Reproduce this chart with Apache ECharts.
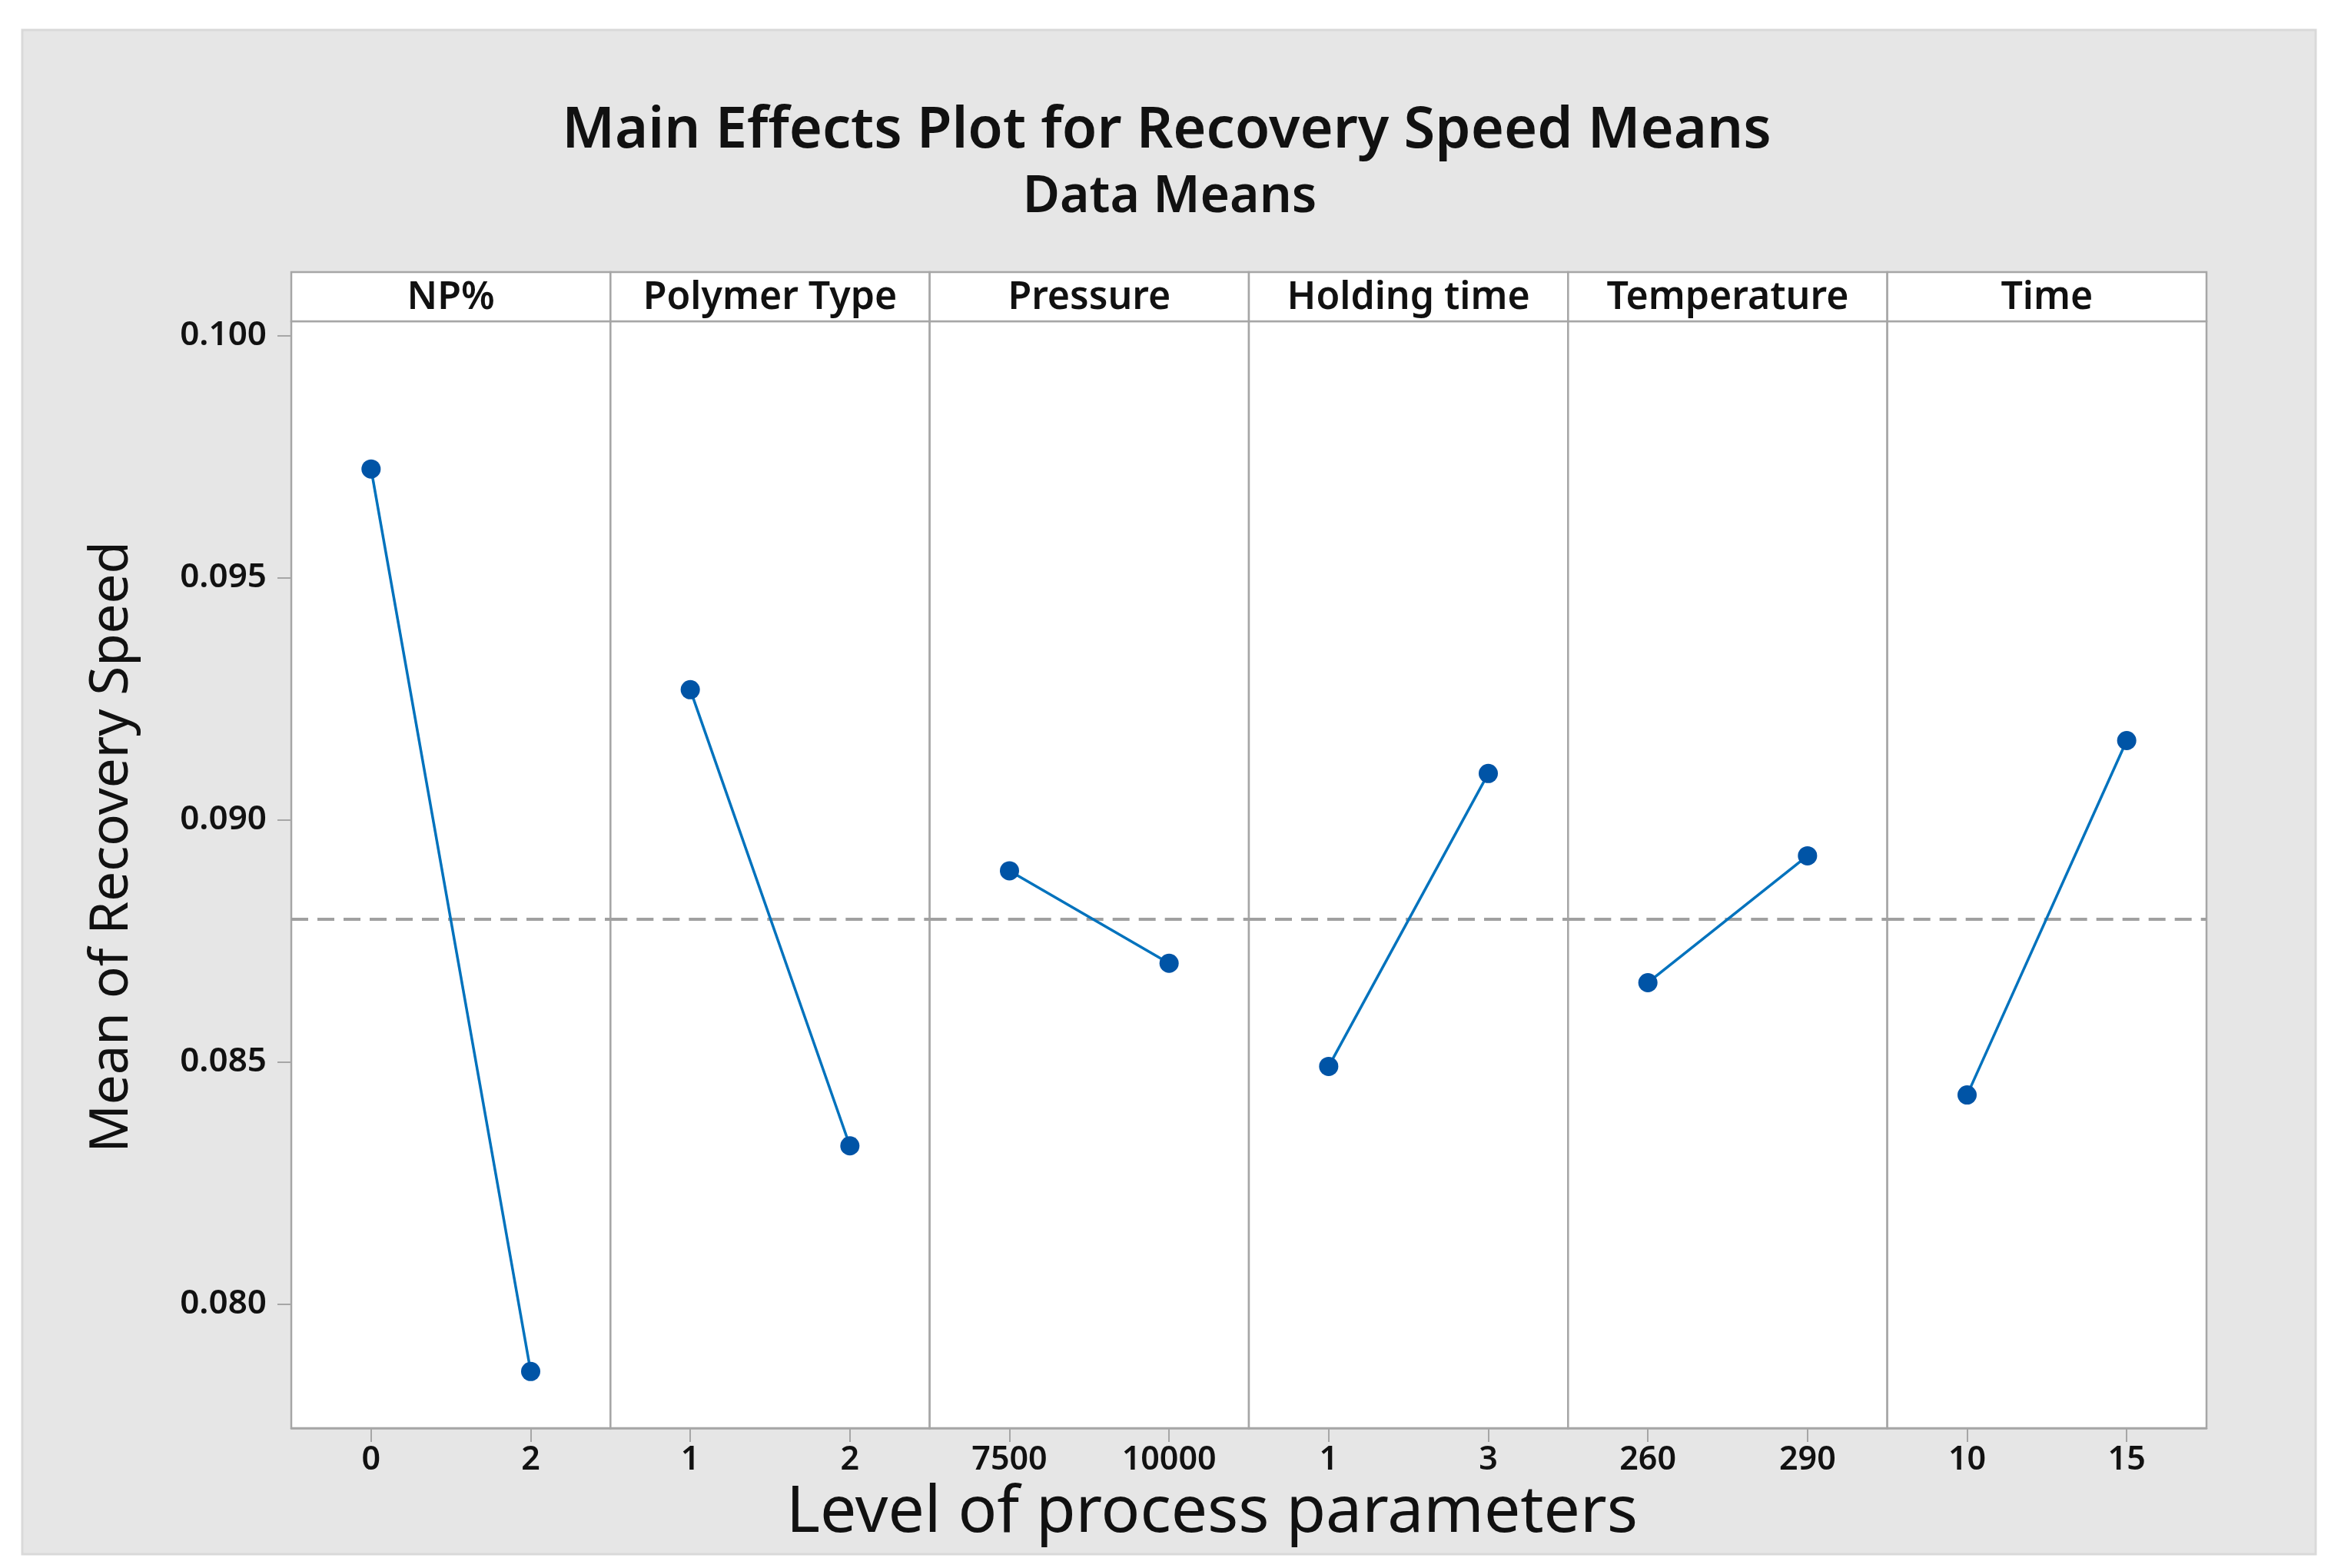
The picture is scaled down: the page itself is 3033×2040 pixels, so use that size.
<!DOCTYPE html>
<html>
<head>
<meta charset="utf-8">
<script src="https://cdn.jsdelivr.net/npm/echarts@6/dist/echarts.min.js"></script>
<style>
html,body{margin:0;padding:0;background:#fff;}
#chart{width:3033px;height:2040px;}
</style>
</head>
<body>
<div id="chart"></div>
<script>
// ---- data ----
const factors = ["NP%", "Polymer Type", "Pressure", "Holding time", "Temperature", "Time"];
const levelsNP = ["0", "2"];
const levelsPolymer = ["1", "2"];
const levelsPressure = ["7500", "10000"];
const levelsHolding = ["1", "3"];
const levelsTemp = ["260", "290"];
const levelsTime = ["10", "15"];
const meansNP = [0.09725, 0.07861];
const meansPolymer = [0.09269, 0.08327];
const meansPressure = [0.08895, 0.08704];
const meansHolding = [0.08491, 0.09096];
const meansTemp = [0.08664, 0.08926];
const meansTime = [0.08432, 0.09164];
const grandMean = 0.08796;
const yTicks = [0.080, 0.085, 0.090, 0.095, 0.100];

const levels = [levelsNP, levelsPolymer, levelsPressure, levelsHolding, levelsTemp, levelsTime];
const means = [meansNP, meansPolymer, meansPressure, meansHolding, meansTemp, meansTime];

// ---- layout ----
const FONT = '"Noto Sans", "Open Sans", sans-serif';
const plotLeft = 379, plotRight = 2871, plotTop = 418, plotBottom = 1858, stripTop = 354;
const panelW = (plotRight - plotLeft) / 6;
const yMin = 0.07744, yMax = 0.1003;
const gray = '#a6a6a6';

const grids = [], xAxes = [], yAxes = [], series = [], graphics = [];

graphics.push({
  type: 'rect', z: -10,
  shape: {x: 29, y: 39, width: 2984, height: 1983},
  style: {fill: '#e6e6e6', stroke: '#d9d9d9', lineWidth: 3}
});

for (let i = 0; i < 6; i++) {
  const left = plotLeft + i * panelW;
  grids.push({
    left: left, top: plotTop, width: panelW, height: plotBottom - plotTop,
    show: true, backgroundColor: '#fff', borderColor: gray, borderWidth: 2.5
  });
  xAxes.push({
    type: 'category', gridIndex: i, data: levels[i], boundaryGap: true,
    axisLine: {show: true, lineStyle: {color: gray, width: 2.5}},
    axisTick: {show: true, alignWithLabel: true, length: 18, lineStyle: {color: gray, width: 2}},
    axisLabel: {fontSize: 43, color: '#111', margin: 20, fontFamily: FONT, fontWeight: 600},
    splitLine: {show: false}
  });
  yAxes.push(i === 0 ? {
    type: 'value', gridIndex: i, min: yMin, max: yMax,
    axisLine: {show: false},
    axisTick: {show: true, length: 18, customValues: yTicks, lineStyle: {color: gray, width: 2}},
    axisLabel: {customValues: yTicks, formatter: v => v.toFixed(3), fontSize: 44, color: '#111',
                margin: 32, fontFamily: FONT, fontWeight: 600},
    splitLine: {show: false}
  } : {
    type: 'value', gridIndex: i, min: yMin, max: yMax,
    axisLine: {show: false}, axisTick: {show: false}, axisLabel: {show: false}, splitLine: {show: false}
  });
  series.push({
    type: 'line', xAxisIndex: i, yAxisIndex: i, data: means[i],
    symbol: 'circle', symbolSize: 25,
    lineStyle: {color: '#0072bd', width: 3.5},
    itemStyle: {color: '#0054a6'},
    z: 5,
    markLine: {
      silent: true, symbol: 'none', label: {show: false}, precision: 6,
      lineStyle: {type: [22, 12], color: '#a0a0a0', width: 4},
      data: [{yAxis: grandMean}],
      z: 3
    }
  });
  graphics.push({
    type: 'rect', z: 10,
    shape: {x: left, y: stripTop, width: panelW, height: plotTop - stripTop},
    style: {fill: '#fff', stroke: gray, lineWidth: 2.5}
  });
  graphics.push({
    type: 'text', z: 11,
    x: left + panelW / 2, y: (stripTop + plotTop) / 2 + 2,
    style: {text: factors[i], font: '600 50px ' + FONT, fill: '#111', align: 'center', verticalAlign: 'middle'}
  });
}

graphics.push({
  type: 'text', z: 11, x: 1518, y: 171,
  style: {text: 'Main Effects Plot for Recovery Speed Means', font: '600 74px ' + FONT, fill: '#111',
          align: 'center', verticalAlign: 'middle'}
});
graphics.push({
  type: 'text', z: 11, x: 1522, y: 257,
  style: {text: 'Data Means', font: '600 66px ' + FONT, fill: '#111', align: 'center', verticalAlign: 'middle'}
});
graphics.push({
  type: 'text', z: 11, x: 146, y: 1102, rotation: Math.PI / 2,
  style: {text: 'Mean of Recovery Speed', font: '69px ' + FONT, fill: '#111', align: 'center', verticalAlign: 'middle'}
});
graphics.push({
  type: 'text', z: 11, x: 1577, y: 1969,
  style: {text: 'Level of process parameters', font: '84px ' + FONT, fill: '#111', align: 'center', verticalAlign: 'middle'}
});

const chart = echarts.init(document.getElementById('chart'));
chart.setOption({
  animation: false,
  backgroundColor: '#fff',
  grid: grids, xAxis: xAxes, yAxis: yAxes, series: series, graphic: graphics
});
</script>
</body>
</html>
